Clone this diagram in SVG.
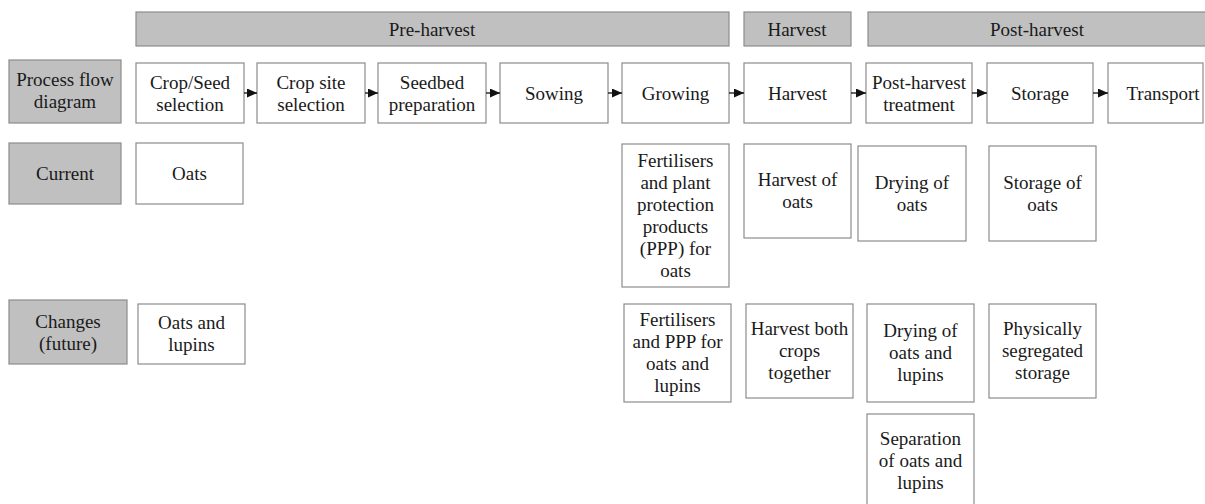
<svg xmlns="http://www.w3.org/2000/svg" width="1205" height="504" viewBox="0 0 1205 504">
<style>
text{font-family:'Liberation Serif',Tinos,'Times New Roman','DejaVu Serif',serif;font-size:19px;fill:#1a1a1a;text-anchor:middle}
.box{fill:#fff;stroke:#8c8c8c;stroke-width:1.2}
.lab{fill:#c0c0c0;stroke:#8c8c8c;stroke-width:1.2}
.con{stroke:#111;stroke-width:1.3;fill:none}
</style>
<defs>
<marker id="ah" markerWidth="10" markerHeight="9" refX="10" refY="4.5" orient="auto" markerUnits="userSpaceOnUse">
<path d="M0,0 L10,4.5 L0,9 Z" fill="#111"/>
</marker>
</defs>
<rect width="1205" height="504" fill="#fff"/>
<g font-family="Liberation Serif, Tinos, Times New Roman, DejaVu Serif, serif">
<g id="phase-pre"><rect class="lab" x="136" y="12" width="593" height="34"/><text x="432" y="35.5">Pre-harvest</text></g>
<g id="phase-harvest"><rect class="lab" x="744" y="12" width="107" height="34"/><text x="797" y="35.5">Harvest</text></g>
<g id="phase-post"><rect class="lab" x="868" y="12" width="340" height="34"/><text x="1037" y="35.5">Post-harvest</text></g>

<g id="label-process"><rect class="lab" x="9" y="60" width="112" height="63"/><text x="65" y="86">Process flow</text><text x="65" y="108">diagram</text></g>
<g id="label-current"><rect class="lab" x="9" y="143" width="112" height="61"/><text x="65" y="180">Current</text></g>
<g id="label-changes"><rect class="lab" x="9" y="300" width="118" height="64"/><text x="68" y="327.5">Changes</text><text x="68" y="349.5">(future)</text></g>

<g id="p1"><rect class="box" x="136" y="63" width="108" height="60"/><text x="190" y="88.5">Crop/Seed</text><text x="190" y="110.5">selection</text></g>
<g id="p2"><rect class="box" x="257" y="63" width="108" height="60"/><text x="311" y="88.5">Crop site</text><text x="311" y="110.5">selection</text></g>
<g id="p3"><rect class="box" x="378" y="63" width="108" height="60"/><text x="432" y="88.5">Seedbed</text><text x="432" y="110.5">preparation</text></g>
<g id="p4"><rect class="box" x="500" y="63" width="108" height="60"/><text x="554" y="99.5">Sowing</text></g>
<g id="p5"><rect class="box" x="622" y="63" width="107" height="60"/><text x="675.5" y="99.5">Growing</text></g>
<g id="p6"><rect class="box" x="744" y="63" width="107" height="60"/><text x="797.5" y="99.5">Harvest</text></g>
<g id="p7"><rect class="box" x="866" y="63" width="106" height="60"/><text x="919" y="88.5">Post-harvest</text><text x="919" y="110.5">treatment</text></g>
<g id="p8"><rect class="box" x="987" y="63" width="106" height="60"/><text x="1040" y="99.5">Storage</text></g>
<g id="p9"><rect class="box" x="1108" y="63" width="95" height="60"/><text x="1163" y="99.5">Transport</text></g>

<g id="c1"><rect class="box" x="136" y="143" width="107" height="61"/><text x="189.5" y="180">Oats</text></g>
<g id="c2"><rect class="box" x="622" y="144" width="107" height="143"/>
<text x="675.5" y="167">Fertilisers</text><text x="675.5" y="189">and plant</text><text x="675.5" y="211">protection</text><text x="675.5" y="233">products</text><text x="675.5" y="255">(PPP) for</text><text x="675.5" y="277">oats</text></g>
<g id="c3"><rect class="box" x="744" y="144" width="107" height="94"/><text x="797.5" y="186">Harvest of</text><text x="797.5" y="208">oats</text></g>
<g id="c4"><rect class="box" x="858" y="146" width="108" height="95"/><text x="912" y="189">Drying of</text><text x="912" y="211">oats</text></g>
<g id="c5"><rect class="box" x="989" y="146" width="107" height="95"/><text x="1042.5" y="189">Storage of</text><text x="1042.5" y="211">oats</text></g>

<g id="f1"><rect class="box" x="138" y="304" width="107" height="60"/><text x="191.5" y="328.5">Oats and</text><text x="191.5" y="350.5">lupins</text></g>
<g id="f2"><rect class="box" x="624" y="304" width="107" height="98"/><text x="677.5" y="326">Fertilisers</text><text x="677.5" y="348">and PPP for</text><text x="677.5" y="370">oats and</text><text x="677.5" y="392">lupins</text></g>
<g id="f3"><rect class="box" x="746" y="304" width="107" height="94"/><text x="799.5" y="335">Harvest both</text><text x="799.5" y="357">crops</text><text x="799.5" y="379">together</text></g>
<g id="f4"><rect class="box" x="867" y="304" width="107" height="98"/><text x="920.5" y="337">Drying of</text><text x="920.5" y="359">oats and</text><text x="920.5" y="381">lupins</text></g>
<g id="f5"><rect class="box" x="989" y="304" width="107" height="94"/><text x="1042.5" y="335">Physically</text><text x="1042.5" y="357">segregated</text><text x="1042.5" y="379">storage</text></g>
<g id="f6"><rect class="box" x="867" y="414" width="107" height="94"/><text x="920.5" y="445">Separation</text><text x="920.5" y="467">of oats and</text><text x="920.5" y="489">lupins</text></g>
</g>
<g id="connectors">
<line class="con" x1="244" y1="93" x2="257" y2="93" marker-end="url(#ah)"/>
<line class="con" x1="365" y1="93" x2="378" y2="93" marker-end="url(#ah)"/>
<line class="con" x1="486" y1="93" x2="500" y2="93" marker-end="url(#ah)"/>
<line class="con" x1="608" y1="93" x2="622" y2="93" marker-end="url(#ah)"/>
<line class="con" x1="729" y1="93" x2="744" y2="93" marker-end="url(#ah)"/>
<line class="con" x1="851" y1="93" x2="866" y2="93" marker-end="url(#ah)"/>
<line class="con" x1="972" y1="93" x2="987" y2="93" marker-end="url(#ah)"/>
<line class="con" x1="1093" y1="93" x2="1108" y2="93" marker-end="url(#ah)"/>
</g>
</svg>
